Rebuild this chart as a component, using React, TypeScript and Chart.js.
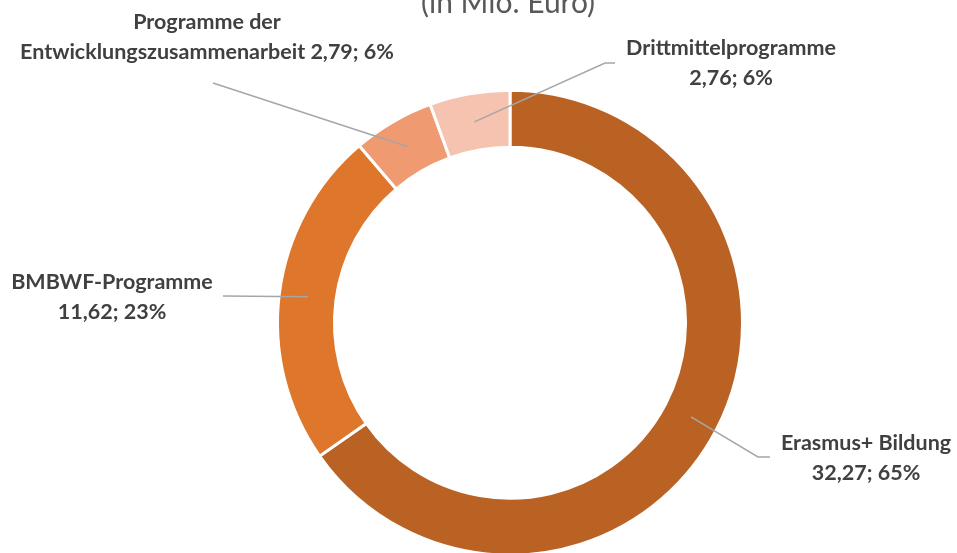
import React, { useEffect, useRef } from "react";
import { Chart, registerables } from "chart.js";

Chart.register(...registerables);

const categories = [
  "Erasmus+ Bildung",
  "BMBWF-Programme",
  "Programme der Entwicklungszusammenarbeit",
  "Drittmittelprogramme",
];
const values = [32.27, 11.62, 2.79, 2.76];
const percents = [65, 23, 6, 6];
const colors = ["#B96224", "#DE762C", "#EF9A70", "#F5C3B0"];
const titleLines = ["(in Mio. Euro)"];

// label layout: text lines, text centre, leader polyline points (ending at the arc centroid)
const labelLayout = [
  { lines: ["Erasmus+ Bildung", "{v}"], x: 866, y: 443, leader: [[770, 457], [758, 457]] },
  { lines: ["BMBWF-Programme", "{v}"], x: 112, y: 282, leader: [[223, 296]] },
  { lines: ["Programme der", "Entwicklungszusammenarbeit {v}"], x: 207, y: 22, leader: [[213, 83]] },
  { lines: ["Drittmittelprogramme", "{v}"], x: 731, y: 48, leader: [[615, 63], [605, 63]] },
];

const fmt = (v: number) => v.toFixed(2).replace(".", ",");

const labelPlugin = {
  id: "labelPlugin",
  afterDraw(chart: any) {
    const ctx = chart.ctx;
    const meta = chart.getDatasetMeta(0);
    ctx.save();
    // title
    ctx.fillStyle = "#595959";
    ctx.font = "30px Lato";
    ctx.textAlign = "center";
    ctx.textBaseline = "alphabetic";
    titleLines.forEach((t, i) => ctx.fillText(t, 508, 13 + i * 30));

    meta.data.forEach((arc: any, i: number) => {
      const p = arc.tooltipPosition();
      const L = labelLayout[i];
      ctx.strokeStyle = "#A6A6A6";
      ctx.lineWidth = 1.5;
      ctx.beginPath();
      ctx.moveTo(L.leader[0][0], L.leader[0][1]);
      for (let k = 1; k < L.leader.length; k++) ctx.lineTo(L.leader[k][0], L.leader[k][1]);
      ctx.lineTo(p.x, p.y);
      ctx.stroke();

      ctx.fillStyle = "#404040";
      ctx.font = "bold 21.5px Lato";
      ctx.textAlign = "center";
      ctx.textBaseline = "middle";
      const vtxt = `${fmt(values[i])}; ${percents[i]}%`;
      L.lines.forEach((ln, j) => {
        ctx.fillText(ln.replace("{v}", vtxt), L.x, L.y + j * 30);
      });
    });
    ctx.restore();
  },
};

export default function App() {
  const ref = useRef<HTMLCanvasElement>(null);
  useEffect(() => {
    const chart = new Chart(ref.current!, {
      type: "doughnut",
      data: {
        labels: categories,
        datasets: [
          {
            data: values,
            backgroundColor: colors,
            borderColor: "#FFFFFF",
            borderWidth: 3,
          },
        ],
      },
      options: {
        responsive: false,
        animation: false,
        cutout: "75.5%",
        layout: { padding: { top: 88.7, bottom: 23.3, left: 150, right: 87 } },
        plugins: {
          legend: { display: false },
          tooltip: { enabled: false },
          title: { display: false },
        },
      },
      plugins: [labelPlugin],
    });
    return () => chart.destroy();
  }, []);
  return (
    <div
      style={{
        position: "fixed",
        left: 0,
        top: 0,
        width: 957,
        height: 553,
        overflow: "hidden",
        background: "#fff",
      }}
    >
      <canvas ref={ref} width={957} height={580} style={{ display: "block" }} />
    </div>
  );
}
